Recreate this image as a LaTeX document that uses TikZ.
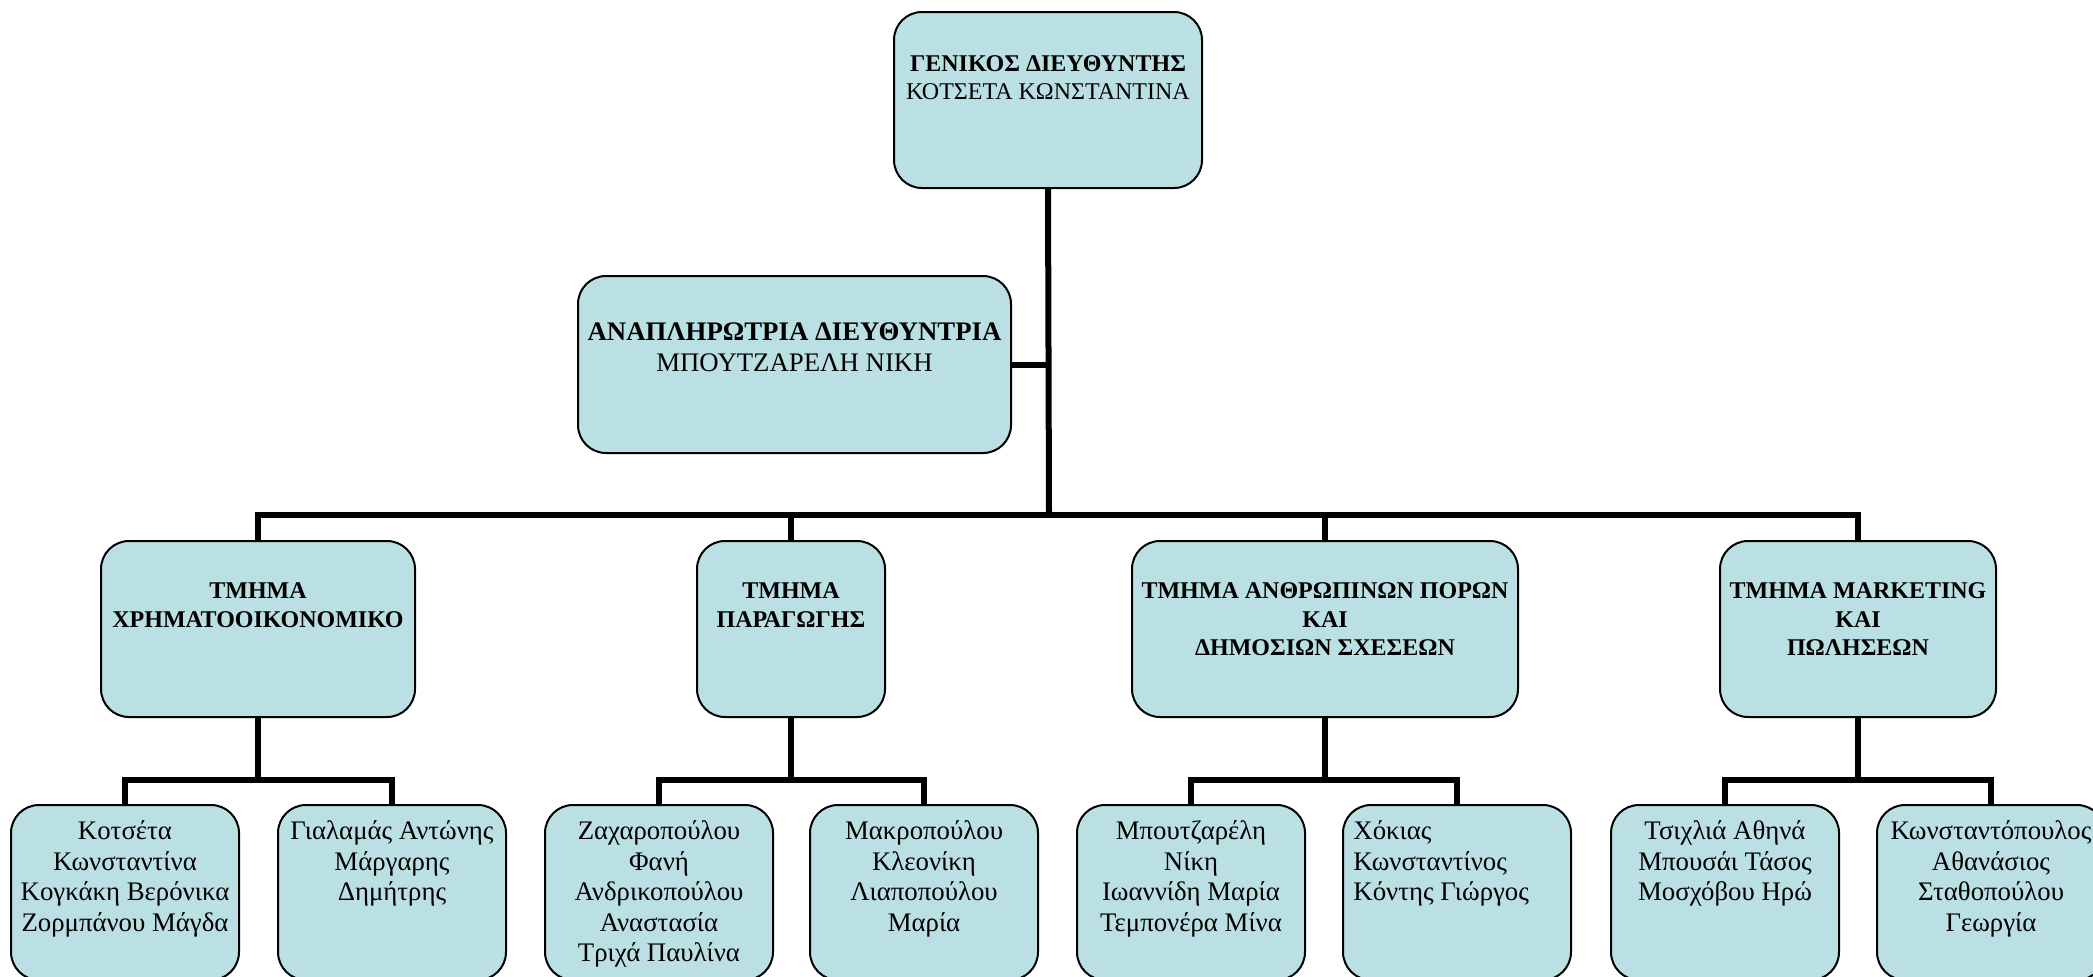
\documentclass[tikz,border=0pt]{standalone}
\usepackage{fontspec}
\setmainfont{Liberation Serif}
\usetikzlibrary{fit}
\definecolor{boxfill}{RGB}{187,224,227}
\newcommand{\fl}{\rule{0pt}{0.75em}}
\begin{document}
\begin{tikzpicture}[x=0.5pt,y=-0.5pt,
  box/.style={draw=black, line width=1pt, fill=boxfill, rounded corners=14pt, inner sep=0pt},
  head/.style={font=\fontsize{12}{14}\selectfont, align=center, anchor=north, inner sep=0pt},
  dept/.style={font=\fontsize{12}{14.3}\selectfont\bfseries, align=center, anchor=north, inner sep=0pt},
  names/.style={font=\fontsize{13.4}{15.3}\selectfont, align=center, anchor=north, inner sep=0pt},
  conn/.style={line width=3pt, line join=miter}]
\useasboundingbox (0,0) rectangle (2093,976);
\clip (0,0) rectangle (2093,976);
% boxes
\node[box, fit={(894,12) (1202,188)}] (top) {};
\node[box, fit={(578,276) (1011,453)}] (dep) {};
\node[box, fit={(101,541) (415,717)}] (d1) {};
\node[box, fit={(697,541) (885,717)}] (d2) {};
\node[box, fit={(1132,541) (1518,717)}] (d3) {};
\node[box, fit={(1720,541) (1996,717)}] (d4) {};
\node[box, fit={(11,805) (239,980)}] (s1a) {};
\node[box, fit={(278,805) (506,980)}] (s1b) {};
\node[box, fit={(545,805) (773,980)}] (s2a) {};
\node[box, fit={(810,805) (1038,980)}] (s2b) {};
\node[box, fit={(1077,805) (1305,980)}] (s3a) {};
\node[box, fit={(1343,805) (1571,980)}] (s3b) {};
\node[box, fit={(1611,805) (1839,980)}] (s4a) {};
\node[box, fit={(1877,805) (2105,980)}] (s4b) {};
% junctions
\coordinate (bus) at (1049,515);
\coordinate (j1) at (258,780);
\coordinate (j2) at (791,780);
\coordinate (j3) at (1325,780);
\coordinate (j4) at (1858,780);
% connectors
\draw[conn] (top.south) -- (bus);
\draw[conn] (dep.east) -- (dep.east -| bus);
\draw[conn] (d1.north) |- (bus) -| (d4.north);
\draw[conn] (d2.north) -- (d2.north |- bus);
\draw[conn] (d3.north) -- (d3.north |- bus);
\draw[conn] (d1.south) -- (j1);
\draw[conn] (d2.south) -- (j2);
\draw[conn] (d3.south) -- (j3);
\draw[conn] (d4.south) -- (j4);
\draw[conn] (s1a.north) |- (j1) -| (s1b.north);
\draw[conn] (s2a.north) |- (j2) -| (s2b.north);
\draw[conn] (s3a.north) |- (j3) -| (s3b.north);
\draw[conn] (s4a.north) |- (j4) -| (s4b.north);
% texts
\node[head] (ttop) at (1048,53) {\textbf{\fl ΓΕΝΙΚΟΣ ΔΙΕΥΘΥΝΤΗΣ}\\ΚΟΤΣΕΤΑ ΚΩΝΣΤΑΝΤΙΝΑ};
\node[head, font=\fontsize{13.4}{15.3}\selectfont] (tdep) at (794.5,320) {\textbf{\fl ΑΝΑΠΛΗΡΩΤΡΙΑ ΔΙΕΥΘΥΝΤΡΙΑ}\\ΜΠΟΥΤΖΑΡΕΛΗ ΝΙΚΗ};
\node[dept] (td1) at (258,580) {\fl ΤΜΗΜΑ\\ΧΡΗΜΑΤΟΟΙΚΟΝΟΜΙΚΟ};
\node[dept] (td2) at (791,580) {\fl ΤΜΗΜΑ\\ΠΑΡΑΓΩΓΗΣ};
\node[dept] (td3) at (1325,580) {\fl ΤΜΗΜΑ ΑΝΘΡΩΠΙΝΩΝ ΠΟΡΩΝ\\ΚΑΙ\\ΔΗΜΟΣΙΩΝ ΣΧΕΣΕΩΝ};
\node[dept] (td4) at (1858,580) {\fl ΤΜΗΜΑ MARKETING\\ΚΑΙ\\ΠΩΛΗΣΕΩΝ};
\node[names] (ts1a) at (125,819) {\fl Κοτσέτα\\Κωνσταντίνα\\Κογκάκη Βερόνικα\\Ζορμπάνου Μάγδα};
\node[names] (ts1b) at (392,819) {\fl Γιαλαμάς Αντώνης\\Μάργαρης\\Δημήτρης};
\node[names] (ts2a) at (659,819) {\fl Ζαχαροπούλου\\Φανή\\Ανδρικοπούλου\\Αναστασία\\Τριχά Παυλίνα};
\node[names] (ts2b) at (924,819) {\fl Μακροπούλου\\Κλεονίκη\\Λιαποπούλου\\Μαρία};
\node[names] (ts3a) at (1191,819) {\fl Μπουτζαρέλη\\Νίκη\\Ιωαννίδη Μαρία\\Τεμπονέρα Μίνα};
\node[names, align=left, anchor=north west] (ts3b) at (1353,819) {\fl Χόκιας\\Κωνσταντίνος\\Κόντης Γιώργος};
\node[names] (ts4a) at (1725,819) {\fl Τσιχλιά Αθηνά\\Μπουσάι Τάσος\\Μοσχόβου Ηρώ};
\node[names] (ts4b) at (1991,819) {\fl Κωνσταντόπουλος\\Αθανάσιος\\Σταθοπούλου\\Γεωργία};
\end{tikzpicture}
\end{document}
